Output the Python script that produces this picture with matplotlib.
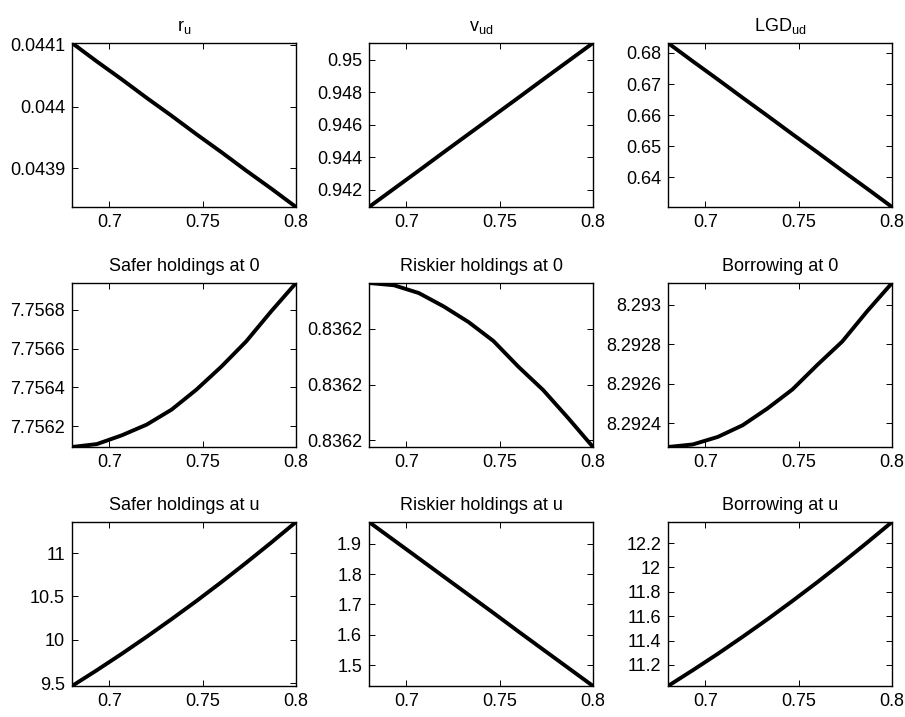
import matplotlib
matplotlib.use('Agg')
import matplotlib.pyplot as plt

plt.rcParams['font.family'] = ['Liberation Sans', 'DejaVu Sans']
plt.rcParams['mathtext.fontset'] = 'custom'
plt.rcParams['mathtext.rm'] = 'Liberation Sans'
plt.rcParams['mathtext.it'] = 'Liberation Sans'

# grid of x values (same for every panel)
x = [0.68, 0.69333, 0.70667, 0.72, 0.73333, 0.74667, 0.76, 0.77333, 0.78667, 0.8]

r_u = [0.044103, 0.044073, 0.044044, 0.044014, 0.043985,
       0.043955, 0.043926, 0.043896, 0.043867, 0.043837]
v_ud = [0.94094, 0.94206, 0.94318, 0.94431, 0.94543,
        0.94655, 0.94767, 0.94880, 0.94992, 0.95104]
lgd_ud = [0.6832, 0.6773, 0.6715, 0.6656, 0.6598,
          0.6539, 0.6481, 0.6422, 0.6364, 0.6305]
safer_0 = [7.756094, 7.756109, 7.756154, 7.756209, 7.756286,
           7.756389, 7.756507, 7.756637, 7.756791, 7.756937]
riskier_0 = [0.8362241, 0.8362239, 0.8362232, 0.8362220, 0.8362206,
             0.8362189, 0.8362166, 0.8362145, 0.8362120, 0.8362094]
borrow_0 = [8.292281, 8.292294, 8.292332, 8.292391, 8.292476,
            8.292572, 8.292696, 8.292814, 8.292967, 8.293110]
safer_u = [9.469, 9.651, 9.840, 10.036, 10.239,
           10.448, 10.665, 10.889, 11.120, 11.358]
riskier_u = [1.972, 1.912, 1.852, 1.792, 1.732,
             1.672, 1.611, 1.551, 1.491, 1.431]
borrow_u = [11.027, 11.157, 11.291, 11.431, 11.575,
            11.725, 11.879, 12.039, 12.204, 12.373]

titles = ['r$_\\mathrm{u}$', 'v$_\\mathrm{ud}$', 'LGD$_\\mathrm{ud}$',
          'Safer holdings at 0', 'Riskier holdings at 0', 'Borrowing at 0',
          'Safer holdings at u', 'Riskier holdings at u', 'Borrowing at u']
series = [r_u, v_ud, lgd_ud, safer_0, riskier_0, borrow_0, safer_u, riskier_u, borrow_u]

yticks = [[0.0439, 0.044, 0.0441],
          [0.942, 0.944, 0.946, 0.948, 0.95],
          [0.64, 0.65, 0.66, 0.67, 0.68],
          [7.7562, 7.7564, 7.7566, 7.7568],
          [0.836210, 0.836215, 0.836220],
          [8.2924, 8.2926, 8.2928, 8.293],
          [9.5, 10, 10.5, 11],
          [1.5, 1.6, 1.7, 1.8, 1.9],
          [11.2, 11.4, 11.6, 11.8, 12, 12.2]]
yticklabels = [['0.0439', '0.044', '0.0441'],
               ['0.942', '0.944', '0.946', '0.948', '0.95'],
               ['0.64', '0.65', '0.66', '0.67', '0.68'],
               ['7.7562', '7.7564', '7.7566', '7.7568'],
               ['0.8362', '0.8362', '0.8362'],
               ['8.2924', '8.2926', '8.2928', '8.293'],
               ['9.5', '10', '10.5', '11'],
               ['1.5', '1.6', '1.7', '1.8', '1.9'],
               ['11.2', '11.4', '11.6', '11.8', '12', '12.2']]
xticks = [0.7, 0.75, 0.8]
xticklabels = ['0.7', '0.75', '0.8']

W, H = 905, 717
fig = plt.figure(figsize=(W / 100, H / 100), dpi=100)

lefts = [72, 369, 668]
tops = [43, 283, 522]
aw, ah = 224, 164

for i in range(9):
    r, c = divmod(i, 3)
    ax = fig.add_axes([lefts[c] / W, 1 - (tops[r] + ah) / H, aw / W, ah / H])
    ax.plot(x, series[i], color='black', lw=2.8, solid_capstyle='butt')
    ax.set_xlim(min(x), max(x))
    ax.set_ylim(min(series[i]), max(series[i]))
    ax.set_xticks(xticks)
    ax.set_xticklabels(xticklabels)
    ax.set_yticks(yticks[i])
    ax.set_yticklabels(yticklabels[i])
    ax.tick_params(direction='in', length=4, width=0.7, labelsize=13,
                   top=True, right=True, pad=5)
    for s in ax.spines.values():
        s.set_linewidth(1.0)
    ax.set_title(titles[i], fontsize=13, pad=9)

fig.savefig('out.png', dpi=100)
